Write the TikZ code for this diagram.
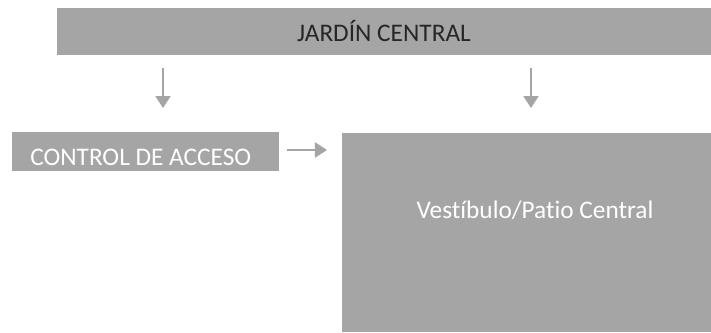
\documentclass[tikz,border=0pt]{standalone}
\usepackage{fontspec}
\setmainfont[Ligatures=NoCommon]{Carlito}
\usetikzlibrary{arrows.meta}

\definecolor{boxgray}{HTML}{A5A5A5}
\definecolor{textdark}{HTML}{262626}

\tikzset{
  area/.style={rectangle, fill=boxgray, inner sep=0pt, font=\fontsize{18}{20}\selectfont},
  flow/.style={draw=boxgray, line width=1.1pt, -{Triangle[length=0.3cm, width=0.38cm]}}
}

\begin{document}
\begin{tikzpicture}[x=0.025cm, y=-0.025cm]
			\useasboundingbox (0,0) rectangle (711,332);

			% Boxes
			\node[area, minimum width=654*0.025cm, minimum height=47*0.025cm, text=textdark]
				(jardin) at (384,31.5) {JARDÍN CENTRAL};                % Top bar
			\node[area, minimum width=267*0.025cm, minimum height=39*0.025cm]
				(control) at (145.5,151.5) {};                          % Left box
			\node[area, text=white, anchor=base west]
				(ctrllbl) at (30,165) {CONTROL\ DE\ ACCESO};             % Its label
			\node[area, minimum width=369*0.025cm, minimum height=199*0.025cm]
				(vestibulo) at (526.5,232.5) {};                        % Big box
			\node[area, text=white] (vestlbl) at (535,210) {Vestíbulo/Patio Central};

			% Arrow ends
			\coordinate (a1s) at (163,68);
			\coordinate (a1e) at (163,108);
			\coordinate (a2s) at (531,68);
			\coordinate (a2e) at (531,108);
			\coordinate (a3s) at (287,150);
			\coordinate (a3e) at (327,150);

			% Arrows
			\draw[flow] (a1s) -- (a1e);
			\draw[flow] (a2s) -- (a2e);
			\draw[flow] (a3s) -- (a3e);
\end{tikzpicture}
\end{document}
